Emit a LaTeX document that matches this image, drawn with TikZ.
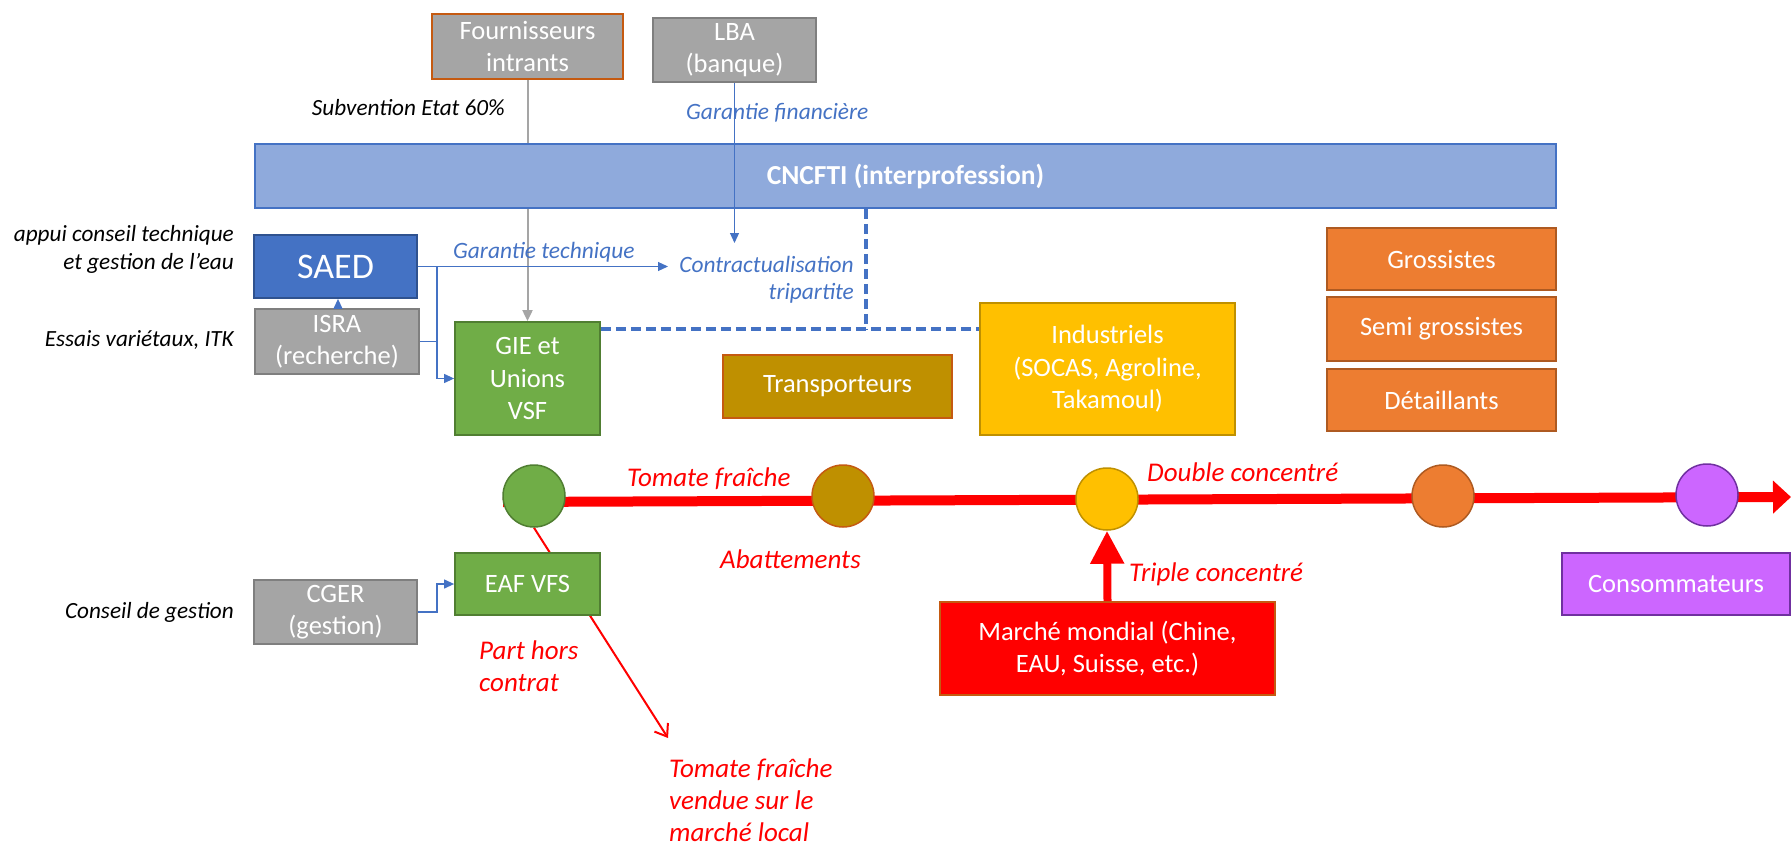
\documentclass[tikz,border=0pt]{standalone}
\usepackage{fontspec}
\setmainfont{Carlito}
\usetikzlibrary{arrows.meta,backgrounds}
\definecolor{gfill}{HTML}{A5A5A5}
\definecolor{gdraw}{HTML}{7F7F7F}
\definecolor{obrd}{HTML}{C55A11}
\definecolor{cnfill}{HTML}{8FAADC}
\definecolor{bl}{HTML}{4472C4}
\definecolor{bldk}{HTML}{2F528F}
\definecolor{gr}{HTML}{70AD47}
\definecolor{grdk}{HTML}{507E32}
\definecolor{brn}{HTML}{BF9000}
\definecolor{yel}{HTML}{FFC000}
\definecolor{org}{HTML}{ED7D31}
\definecolor{orgdk}{HTML}{AE5A21}
\definecolor{pur}{HTML}{CC66FF}
\definecolor{purdk}{HTML}{7030A0}
\definecolor{rd}{HTML}{FF0000}
\tikzset{
  box/.style={draw, line width=1.8pt, text=white, align=center, inner sep=0pt,
    font=\fontsize{26.5}{32.5}\selectfont},
  dot/.style={circle, draw, line width=1.5pt, minimum size=62pt, inner sep=0pt},
  blab/.style={inner sep=0pt, text=black, font=\fontsize{23.2}{28}\selectfont\itshape},
  bluelab/.style={inner sep=0pt, text=bl, font=\fontsize{23.4}{27}\selectfont\itshape},
  rlab/.style={inner sep=0pt, text=rd, font=\fontsize{27}{32}\selectfont\itshape},
  bconn/.style={draw=bl, line width=1.2pt},
  btip/.style={-{Triangle[length=10pt,width=9pt]}},
}
\begin{document}
\begin{tikzpicture}[x=1pt,y=-1pt]
\useasboundingbox (0,0) rectangle (1791,848);
% boxes
\node[box, fill=gfill, draw=obrd, minimum width=191pt, minimum height=65pt] (four) at (527.5,46.5) {Fournisseurs\\intrants};
\node[box, fill=gfill, draw=gdraw, minimum width=163pt, minimum height=64pt] (lba) at (734.5,50) {LBA\\(banque)};
\node[box, fill=cnfill, draw=bl, minimum width=1301pt, minimum height=64pt, font=\fontsize{27.5}{32}\selectfont\bfseries] (cn) at (905.5,176) {CNCFTI (interprofession)};
\node[box, fill=bl, draw=bldk, minimum width=163pt, minimum height=63pt, font=\fontsize{36}{40}\selectfont] (saed) at (335.5,266.5) {SAED};
\node[box, fill=gfill, draw=gdraw, minimum width=164pt, minimum height=65pt] (isra) at (337,341.5) {ISRA\\(recherche)};
\node[box, fill=gr, draw=grdk, minimum width=145pt, minimum height=113pt] (gie) at (527.5,378.5) {GIE et\\Unions\\VSF};
\node[box, fill=brn, draw=obrd, minimum width=229pt, minimum height=63pt] (tr) at (837.5,386.5) {Transporteurs};
\node[box, fill=yel, draw=brn, minimum width=255pt, minimum height=132pt] (ind) at (1107.5,369) {Industriels\\(SOCAS, Agroline,\\Takamoul)};
\node[box, fill=org, draw=orgdk, minimum width=229pt, minimum height=62pt] (gro) at (1441.5,259) {Grossistes};
\node[box, fill=org, draw=orgdk, minimum width=229pt, minimum height=64pt] (semi) at (1441.5,329) {Semi grossistes};
\node[box, fill=org, draw=orgdk, minimum width=229pt, minimum height=62pt] (det) at (1441.5,400) {Détaillants};
\node[box, fill=gr, draw=grdk, minimum width=145pt, minimum height=62pt] (eaf) at (527.5,584) {EAF VFS};
\node[box, fill=gfill, draw=gdraw, minimum width=163pt, minimum height=64pt] (cger) at (335.5,612) {CGER\\(gestion)};
\node[box, fill=rd, draw=obrd, minimum width=335pt, minimum height=93pt] (mm) at (1107.5,648.5) {Marché mondial (Chine,\\EAU, Suisse, etc.)};
\node[box, fill=pur, draw=purdk, minimum width=228pt, minimum height=62pt] (conso) at (1676,584) {Consommateurs};
% circles
\node[dot, fill=gr, draw=grdk] (c1) at (534,496) {};
\node[dot, fill=brn, draw=obrd] (c2) at (843,496) {};
\node[dot, fill=yel, draw=brn] (c3) at (1107,499) {};
\node[dot, fill=org, draw=orgdk] (c4) at (1443,496) {};
\node[dot, fill=pur, draw=purdk] (c5) at (1707,495) {};
% coordinates
\coordinate (lineS) at (503,502);
\coordinate (lineE) at (1791,497);
\coordinate (jx) at (437,0);
\coordinate (dashY) at (0,329);
\coordinate (lbaEnd) at (734.5,243);
\coordinate (localEnd) at (668,738);
\coordinate (arx) at (338,0);
% background connectors
\begin{scope}[on background layer]
\draw[gfill, line width=2pt, -{Triangle[length=11pt,width=10pt]}] (four.south) -- (gie.north);
\draw[rd, line width=10pt, -{Triangle[length=18pt,width=32pt]}] (lineS) -- (lineE);
\draw[rd, line width=2pt, -{Straight Barb[length=11pt,width=16pt]}] (c1.south) -- (localEnd);
\end{scope}
% blue connectors
\draw[bconn, btip] (lba.south) -- (lbaEnd);
\draw[bconn, btip] (saed.east) -- (saed.east -| 668,0);
\draw[bconn, btip] (saed.east) -| (jx |- gie.west) -- (gie.west);
\draw[bconn] (isra.east) -- (jx |- isra.east);
\draw[bconn, btip] (arx |- isra.north) -- (arx |- saed.south);
\draw[bconn, btip] (cger.east) -- (jx |- cger.east) |- (eaf.west);
\draw[bl, line width=4pt, dash pattern=on 10pt off 5pt] (cn.south -| 866,0) -- (866,329);
\draw[bl, line width=4pt, dash pattern=on 10pt off 5pt] (gie.east |- dashY) -- (ind.west |- dashY);
% thick red up arrow
\draw[rd, line width=8pt, -{Triangle[length=33pt,width=32pt]}] (mm.north) -- (c3.south);
% labels
\node[blab, anchor=east] (subv) at (505,108) {Subvention Etat 60\%};
\node[bluelab, anchor=west] (garf) at (686,113) {Garantie financière};
\node[blab, anchor=east, align=right] (appui) at (234,249) {appui conseil technique\\et gestion de l’eau};
\node[blab, anchor=east] (essais) at (234,340) {Essais variétaux, ITK};
\node[blab, anchor=east] (cons) at (234,612) {Conseil de gestion};
\node[bluelab, anchor=west] (gart) at (453,252) {Garantie technique};
\node[bluelab, anchor=east, align=right] (contr) at (854,279.5) {Contractualisation\\tripartite};
\node[rlab, anchor=west] (tf) at (627,479) {Tomate fraîche};
\node[rlab, anchor=west] (ab) at (720,559) {Abattements};
\node[rlab, anchor=west] (dc) at (1147,472) {Double concentré};
\node[rlab, anchor=west] (tc) at (1129,574) {Triple concentré};
\node[rlab, anchor=west, align=left] (phc) at (479,666.5) {Part hors\\contrat};
\node[rlab, anchor=north west, align=left] (tfl) at (669,759) {Tomate fraîche\\vendue sur le\\marché local};
\end{tikzpicture}
\end{document}
